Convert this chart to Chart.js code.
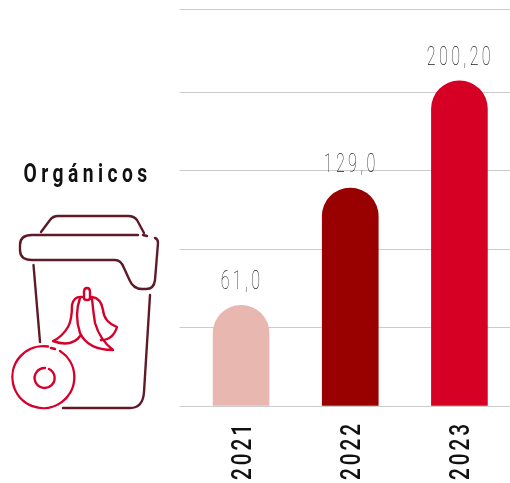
<!DOCTYPE html>
<html>
<head>
<meta charset="utf-8">
<style>
html, body { margin: 0; padding: 0; background: #fff; overflow: hidden; }
canvas { display: block; }
</style>
<script src="https://cdn.jsdelivr.net/npm/chart.js@4"></script>
</head>
<body>
<canvas id="myChart" width="514" height="483"></canvas>
<script>
var titleText = 'Orgánicos';
var years = ['2021', '2022', '2023'];
// printed labels; bar heights below are read off the picture, they do not scale exactly with the labels
var valueLabels = ['61,0', '129,0', '200,20'];
var barHeights = [61, 132, 197];
var gridValues = [0, 47.5, 95, 142.5, 190, 240.6];
var barColors = ['#e8b8b0', '#990000', '#d60024'];

var darkPaths = [
  'M41 232 L50 220 Q53 216 58 216 L128 216 Q134 216 137 220 L144 233',
  'M138 235 L32 235 Q20 235 20 245 L20 250 Q20 260 32 260 L115 260 Q121 260 124 268 L129 279 Q133 289 142 289 L146 289 Q154 289 155 280 L158 243 Q158 239 155 238',
  'M143 235 L147 236',
  'M33.5 265 L40 342',
  'M150 295 L144 392 Q143 408 130 408 L63 408'
];
var redPaths = [
  'M51 348 L55 349',
  'M60 351 A31 31 0 1 1 48 346.5',
  'M49 369 A10 10 0 1 1 45 368',
  'M84 298 L84 292 Q84 288 87 288 Q90 288 90 292 L90 298 Q90 300 87 300 Q84 300 84 298',
  'M82 297 Q74 296 72 305 Q72 320 68 327 Q62 337 53 341 Q72 348 81 335',
  'M80 298 Q74 315 80 333 Q88 350 113 350 Q100 340 95 323 Q93 310 92 299',
  'M92 297 Q101 298 103 310 Q104 322 117 327 Q113 340 101 340'
];

var decorPlugin = {
  id: 'decor',
  afterDraw: function (chart) {
    var ctx = chart.ctx;
    ctx.save();
    ctx.lineWidth = 2.4;
    ctx.lineCap = 'round';
    ctx.lineJoin = 'round';
    ctx.strokeStyle = '#5f1a2a';
    darkPaths.forEach(function (d) { ctx.stroke(new Path2D(d)); });
    ctx.strokeStyle = '#d6002a';
    redPaths.forEach(function (d) { ctx.stroke(new Path2D(d)); });

    // title, squeezed because no condensed font is installed
    ctx.save();
    ctx.fillStyle = '#111';
    ctx.font = '700 26px Roboto';
    ctx.letterSpacing = '6px';
    ctx.textAlign = 'left';
    ctx.textBaseline = 'alphabetic';
    ctx.translate(23.5, 182);
    ctx.scale(0.74, 1);
    ctx.fillText(titleText, 0, 0);
    ctx.restore();

    // value labels above the bars
    var bars = chart.getDatasetMeta(0).data;
    ctx.fillStyle = '#222';
    ctx.font = '100 26px Roboto';
    ctx.letterSpacing = '5.4px';
    ctx.textAlign = 'center';
    ctx.textBaseline = 'alphabetic';
    bars.forEach(function (bar, i) {
      ctx.save();
      ctx.translate(bar.x + 1, bar.y - 16);
      ctx.scale(0.62, 1);
      ctx.fillText(valueLabels[i], 0, 0);
      ctx.restore();
    });

    // year labels, rotated, placed from the x scale
    var xScale = chart.scales.x;
    ctx.fillStyle = '#111';
    ctx.font = '500 28px Roboto';
    ctx.letterSpacing = '4px';
    ctx.textAlign = 'right';
    ctx.textBaseline = 'middle';
    years.forEach(function (year, i) {
      ctx.save();
      ctx.translate(xScale.getPixelForTick(i) + 3, 421);
      ctx.rotate(-Math.PI / 2);
      ctx.scale(0.74, 1);
      ctx.fillText(year, 0, 0);
      ctx.restore();
    });
    ctx.restore();
  }
};

var ctx = document.getElementById('myChart').getContext('2d');
var config = {
  type: 'bar',
  data: {
    labels: years,
    datasets: [{
      data: barHeights,
      backgroundColor: barColors,
      barThickness: 56,
      borderRadius: { topLeft: 28, topRight: 28, bottomLeft: 0, bottomRight: 0 },
      borderSkipped: false
    }]
  },
  options: {
    responsive: false,
    animation: false,
    layout: { padding: { left: 179.5, top: 9, right: 0, bottom: 0 } },
    plugins: { legend: { display: false }, tooltip: { enabled: false } },
    scales: {
      x: {
        afterFit: function (scale) { scale.height = 77; },
        grid: { display: false },
        border: { color: '#cccccc', width: 1 },
        ticks: { display: false }
      },
      y: {
        min: 0,
        max: 240.6,
        afterBuildTicks: function (scale) {
          scale.ticks = gridValues.map(function (v) { return { value: v }; });
        },
        afterFit: function (scale) { scale.width = 7; },
        grid: { color: '#cccccc', tickLength: 7 },
        border: { display: false },
        ticks: { display: false }
      }
    }
  },
  plugins: [decorPlugin]
};

var chart = new Chart(ctx, config);
</script>
</body>
</html>
